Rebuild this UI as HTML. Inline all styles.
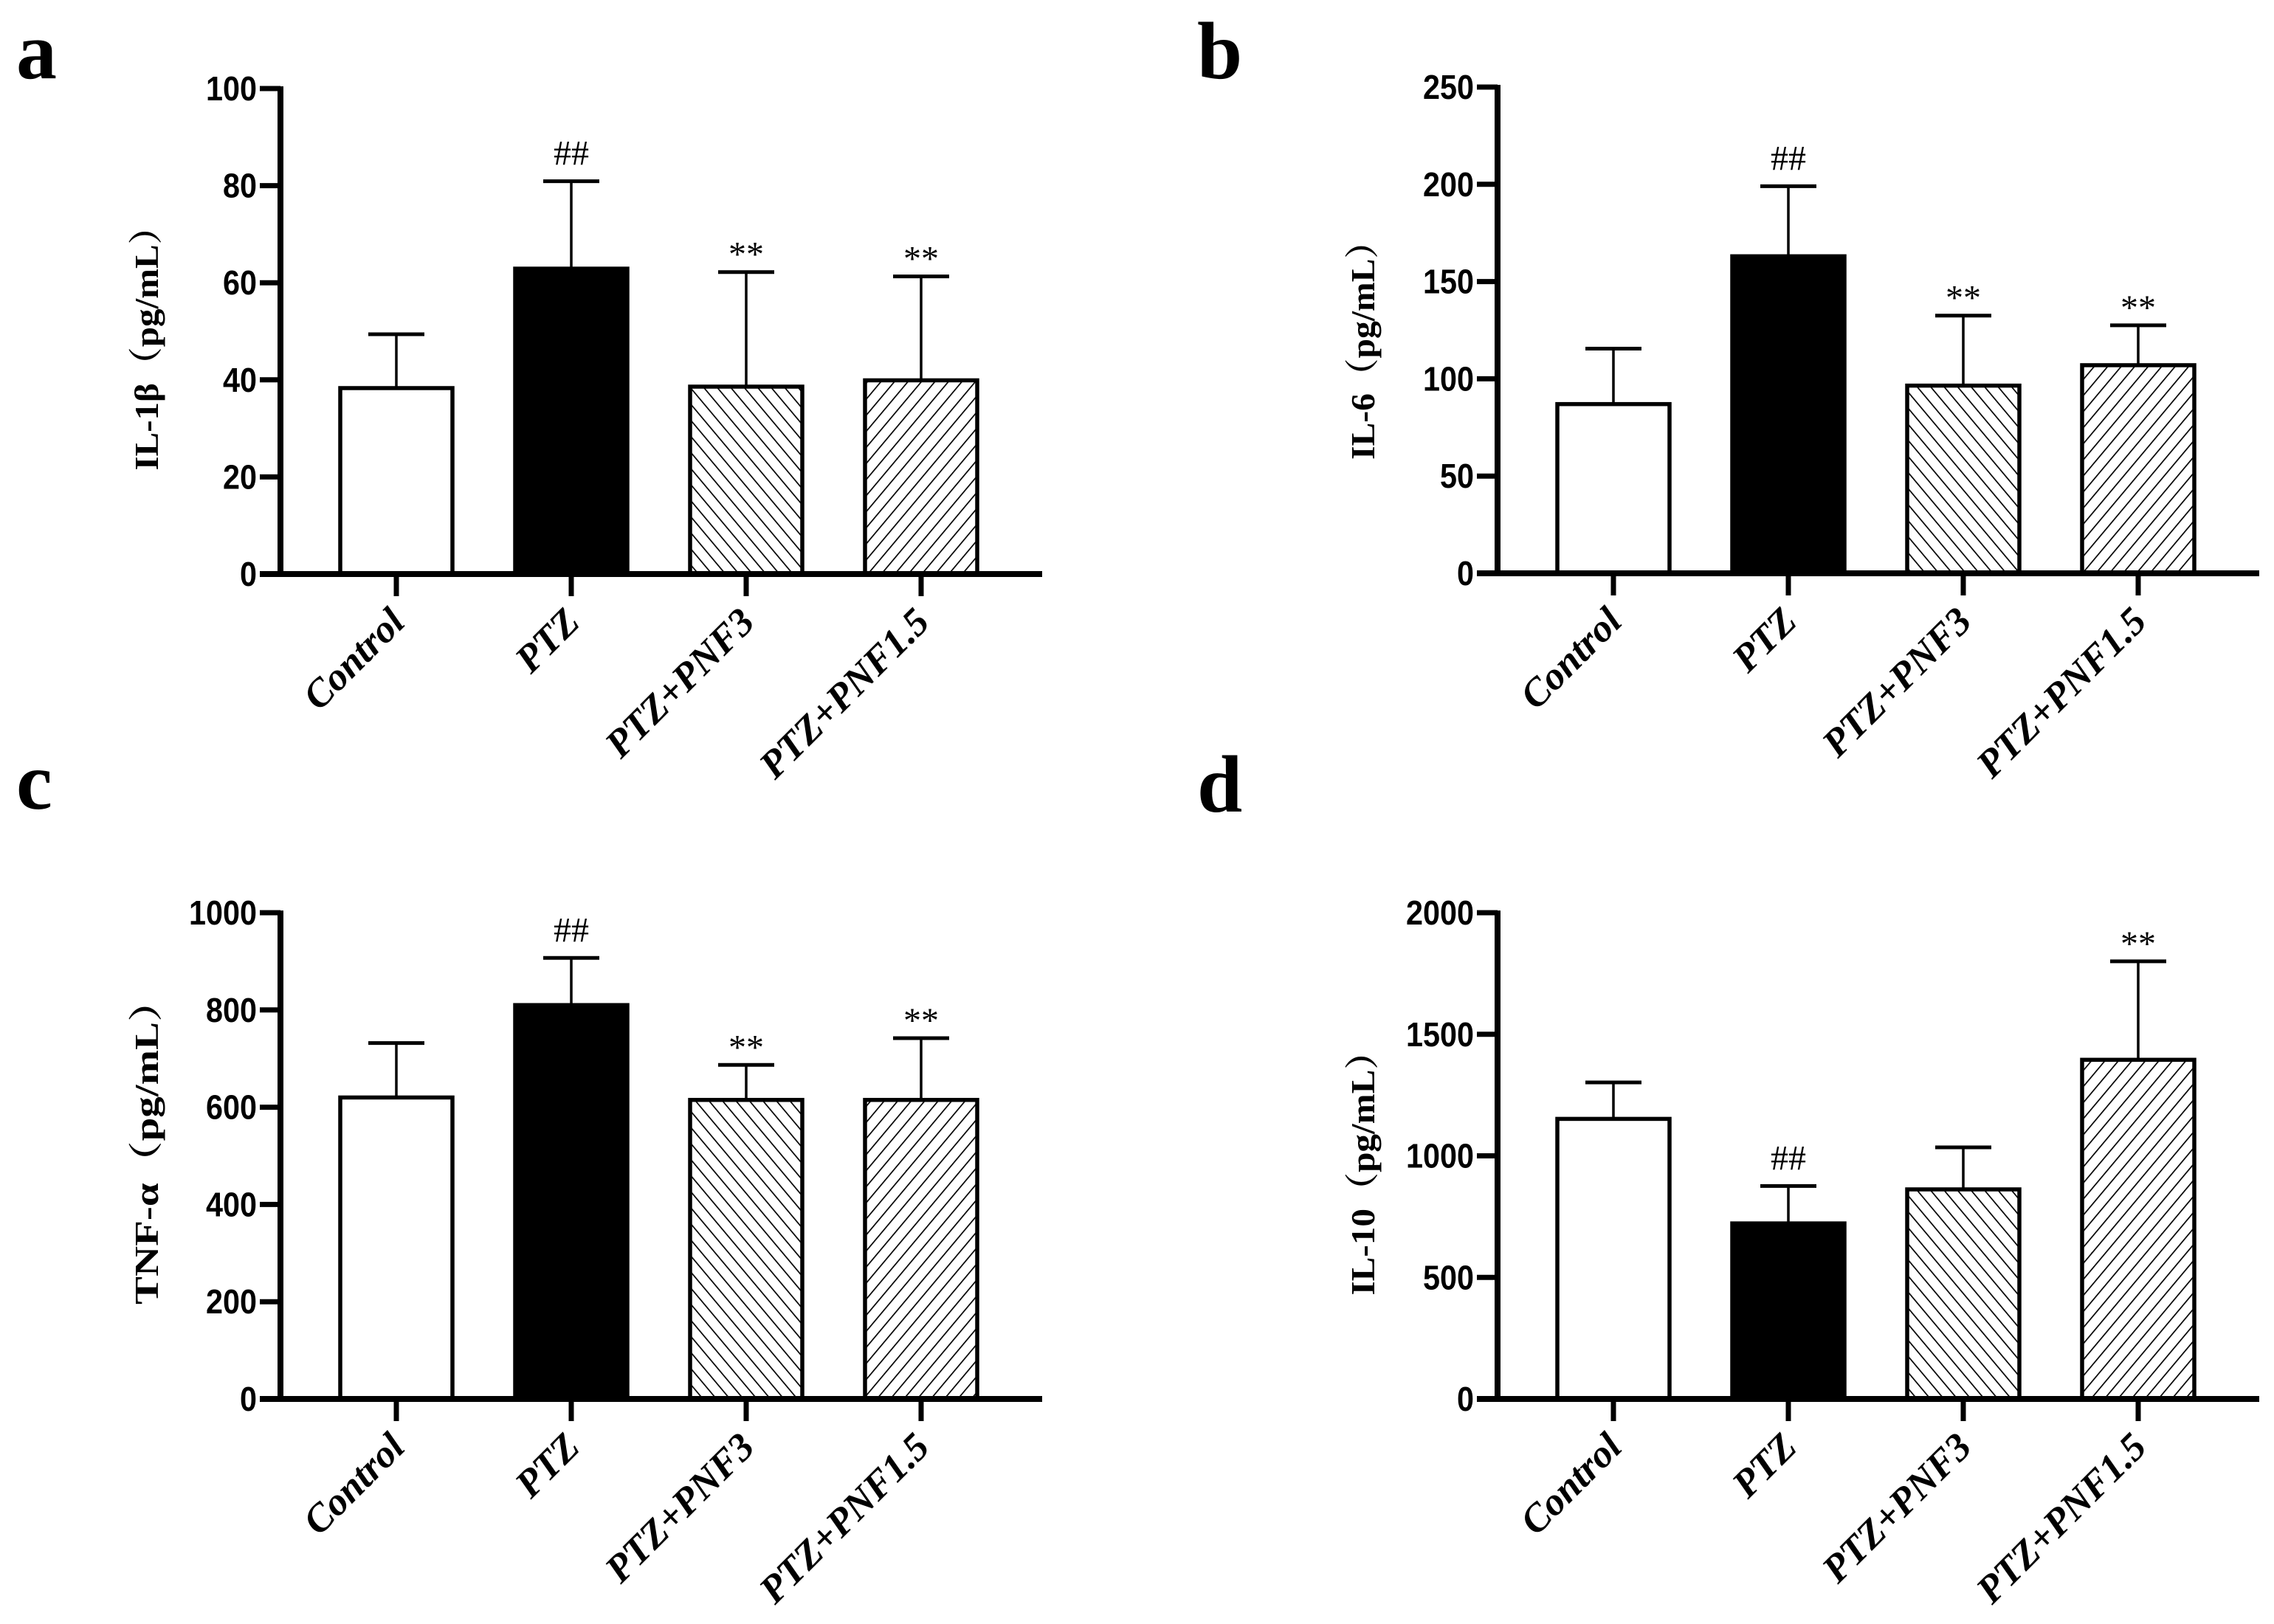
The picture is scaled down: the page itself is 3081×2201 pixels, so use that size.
<!DOCTYPE html>
<html><head><meta charset="utf-8"><style>
html,body{margin:0;padding:0;background:#fff;}
svg{display:block;}
.tick{font-family:"Liberation Sans",sans-serif;font-weight:bold;font-size:46px;}
.ytitle{font-family:"Liberation Serif","Noto Serif CJK SC",serif;font-weight:bold;font-size:46px;}
.xlab{font-family:"Liberation Serif",serif;font-weight:bold;font-style:italic;font-size:53px;}
.ann{font-family:"Liberation Serif",serif;font-size:48px;}
.plet{font-family:"Liberation Serif",serif;font-weight:bold;font-size:110px;}
</style></head><body>
<svg id="fig" width="3081" height="2201" viewBox="0 0 3081 2201" xmlns="http://www.w3.org/2000/svg">
<defs>
<pattern id="hatchBack" patternUnits="userSpaceOnUse" width="14" height="14" patternTransform="rotate(-40)">
<rect width="14" height="14" fill="#fff"/><line x1="0" y1="0" x2="0" y2="14" stroke="#000" stroke-width="3.4"/>
</pattern>
<pattern id="hatchFwd" patternUnits="userSpaceOnUse" width="14" height="14" patternTransform="rotate(40)">
<rect width="14" height="14" fill="#fff"/><line x1="0" y1="0" x2="0" y2="14" stroke="#000" stroke-width="3.4"/>
</pattern>
</defs>
<g id="root"></g>
</svg>
<script>
const categories = ["Control", "PTZ", "PTZ+PNF3", "PTZ+PNF1.5"];
const il1bValues = [38.3, 62.9, 38.6, 39.9];
const il1bErrors = [49.4, 80.9, 62.2, 61.3];
const il1bTicks = [0, 20, 40, 60, 80, 100];
const il1bMarks = ["", "##", "**", "**"];
const il6Values = [87, 163, 96.5, 107];
const il6Errors = [115.5, 199, 132.5, 127.5];
const il6Ticks = [0, 50, 100, 150, 200, 250];
const il6Marks = ["", "##", "**", "**"];
const tnfValues = [620, 810, 615, 615];
const tnfErrors = [732, 907, 687, 742];
const tnfTicks = [0, 200, 400, 600, 800, 1000];
const tnfMarks = ["", "##", "**", "**"];
const il10Values = [1152, 722, 862, 1395];
const il10Errors = [1302, 876, 1035, 1800];
const il10Ticks = [0, 500, 1000, 1500, 2000];
const il10Marks = ["", "##", "", "**"];

const NS = "http://www.w3.org/2000/svg";
const root = document.getElementById("root");
function mk(tag, attrs, parent) {
  const e = document.createElementNS(NS, tag);
  for (const k in attrs) e.setAttribute(k, attrs[k]);
  (parent || root).appendChild(e);
  return e;
}
const fills = ["#fff", "#000", "url(#hatchBack)", "url(#hatchFwd)"];

function panel(p) {
  const g = mk("g", {});
  
  
  const ymax = p.ticks[p.ticks.length - 1];
  const yScale = v => p.y0 - (v / ymax) * (p.y0 - p.yTop);
  const xScale = i => p.ax + 157 + i * 237;
  const bw = 152;
  p.values.forEach((v, i) => {
    const cx = xScale(i);
    const ey = yScale(p.errors[i]);
    const ln = mk("line", {x1: cx, x2: cx, y1: ey, y2: yScale(v), stroke: "#000", "stroke-width": 3.5}, g);
    
    
    const cap = mk("line", {x1: cx - 38, x2: cx + 38, y1: ey, y2: ey, stroke: "#000", "stroke-width": 5}, g);
    
    
    const r = mk("rect", {x: cx - bw / 2, y: yScale(v), width: bw, height: p.y0 - yScale(v), fill: fills[i], stroke: "#000", "stroke-width": 5.5}, g);
    
    
    if (p.marks[i]) {
      const isHash = p.marks[i] === "##";
      const t = mk("text", {x: cx, y: ey - (isHash ? 22 : 8), "text-anchor": "middle", class: "ann"}, g);
      t.textContent = p.marks[i];
      
      
    }
    const tk = mk("line", {x1: cx, x2: cx, y1: p.y0, y2: p.y0 + 30, stroke: "#000", "stroke-width": 7}, g);
    
    
    const lx = cx + 14, ly = p.y0 + 68;
    const lab = mk("text", {x: lx, y: ly, "text-anchor": "end", class: "xlab", transform: "rotate(-45 " + lx + " " + ly + ")"}, g);
    lab.textContent = categories[i];
    
    
  });
  const ya = mk("line", {x1: p.ax, x2: p.ax, y1: p.yTop - 3, y2: p.y0 + 4, stroke: "#000", "stroke-width": 8}, g);
  
  
  const xa = mk("line", {x1: p.ax - 28, x2: p.ax + 1032, y1: p.y0, y2: p.y0, stroke: "#000", "stroke-width": 8}, g);
  
  
  p.ticks.forEach(tv => {
    const y = yScale(tv);
    const tl = mk("line", {x1: p.ax - 28, x2: p.ax, y1: y, y2: y, stroke: "#000", "stroke-width": 7}, g);
    
    
    const s = String(tv);
    const tt = mk("text", {x: p.ax - 32, y: y + 16, "text-anchor": "end", class: "tick", textLength: s.length * 23, lengthAdjust: "spacingAndGlyphs"}, g);
    tt.textContent = s;
    
    
  });
  const tx = p.titleX, ty = p.titleY;
  const title = mk("text", {x: tx, y: ty, "text-anchor": "middle", class: "ytitle", textLength: p.titleLen, lengthAdjust: "spacingAndGlyphs", transform: "rotate(-90 " + tx + " " + ty + ")"}, g);
  title.textContent = p.title;
  
  
  const pl = mk("text", {x: p.letterX, y: p.letterY, class: "plet"}, g);
  pl.textContent = p.letter;
  
  
}

panel({name: "panel-a-il1b", ax: 380, y0: 778, yTop: 120, ticks: il1bTicks, values: il1bValues, errors: il1bErrors, marks: il1bMarks,
  title: "IL-1β（pg/mL）", titleX: 214, titleY: 460, titleLen: 355, letter: "a", letterX: 22, letterY: 106});
panel({name: "panel-b-il6", ax: 2029, y0: 777, yTop: 118, ticks: il6Ticks, values: il6Values, errors: il6Errors, marks: il6Marks,
  title: "IL-6（pg/mL）", titleX: 1862, titleY: 463, titleLen: 320, letter: "b", letterX: 1622, letterY: 106});
panel({name: "panel-c-tnf", ax: 380, y0: 1896, yTop: 1237, ticks: tnfTicks, values: tnfValues, errors: tnfErrors, marks: tnfMarks,
  title: "TNF-α（pg/mL）", titleX: 214, titleY: 1548, titleLen: 440, letter: "c", letterX: 22, letterY: 1096});
panel({name: "panel-d-il10", ax: 2029, y0: 1896, yTop: 1237, ticks: il10Ticks, values: il10Values, errors: il10Errors, marks: il10Marks,
  title: "IL-10（pg/mL）", titleX: 1862, titleY: 1578, titleLen: 355, letter: "d", letterX: 1622, letterY: 1100});
</script>
</body></html>
